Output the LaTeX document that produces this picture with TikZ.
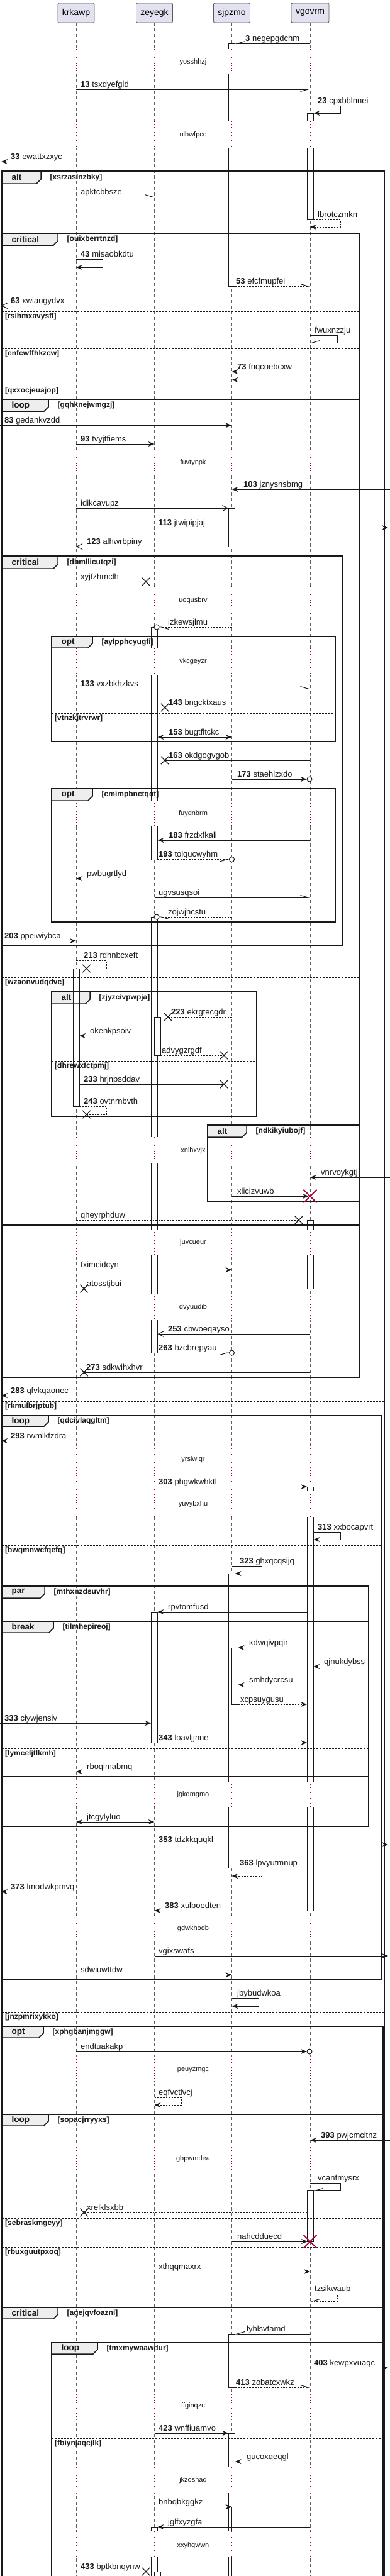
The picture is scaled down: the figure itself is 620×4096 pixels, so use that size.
\documentclass[tikz,border=0pt]{standalone}
\usepackage{fontspec}
\setmainfont{Liberation Sans}
\usetikzlibrary{arrows.meta,shapes.misc}
\definecolor{ink}{HTML}{181818}
\definecolor{lifegray}{HTML}{606060}
\definecolor{dlyred}{HTML}{A80036}
\definecolor{hdrfill}{HTML}{E2E2F0}
\definecolor{hdrdraw}{HTML}{5A5A5A}
\definecolor{tabfill}{HTML}{EEEEEE}
\pgfdeclarelayer{back}
\pgfdeclarelayer{front}
\pgfsetlayers{back,main,front}

\newcommand\Msg[5]{\coordinate (#1s) at (#2,#4); \coordinate (#1e) at (#3,#4); \draw[msg,#5] (#1s) -- (#1e);}
\newcommand\Lab[4]{\node[lbl] (#1) at (#2,#3) {#4};}
\newcommand\Slf[7]{\coordinate (#1s) at (#2,#3); \coordinate (#1e) at (#6,#5); \draw[msg,#7] (#1s) -- (#4,#3) -- (#4,#5) -- (#1e);}
\newcommand\Xm[3]{\node[xmk] (#1) at (#2,#3) {};}
\newcommand\Frm[9]{%
  \begin{pgfonlayer}{back}\fill[tabfill] (#2,#3) -- (#6,#3) -- (#6,{#7-7}) -- ({#6-7},#7) -- (#2,#7) -- cycle;\end{pgfonlayer}
  \begin{pgfonlayer}{front}
  \draw[frm] (#2,#3) rectangle (#4,#5);
  \draw[frm] (#2,#3) -- (#6,#3) -- (#6,{#7-7}) -- ({#6-7},#7) -- (#2,#7);
  \node[tabt] (#1t) at ({#2+15.5},{(#3+#7)/2}) {#8};
  \node[cnd] (#1c) at ({#6+14.5},{(#3+#7)/2}) {#9};
  \end{pgfonlayer}}
\newcommand\Sepr[5]{\begin{pgfonlayer}{front}\draw[sepl] (#2,#4) -- (#3,#4);
  \node[cnd] (#1) at ({#2+5},{#4+8.5}) {#5};\end{pgfonlayer}}
\newcommand\Dly[2]{\begin{pgfonlayer}{back}\foreach \xx in {121,245.5,368.5,493} {\fill[white] ({\xx-1.5},#1) rectangle ({\xx+1.5},#2); \draw[dlyline] (\xx,#1) -- (\xx,#2);}\end{pgfonlayer}}
\newcommand\ActF[3]{\draw[act,fill=white] (#1,#2) rectangle ({#1+10},#3);}
\newcommand\ActT[3]{\fill[white] (#1,#2) rectangle ({#1+10},#3); \draw[act] (#1,#3) -- (#1,#2) -- ({#1+10},#2) -- ({#1+10},#3);}
\newcommand\ActB[3]{\fill[white] (#1,#2) rectangle ({#1+10},#3); \draw[act] (#1,#2) -- (#1,#3) -- ({#1+10},#3) -- ({#1+10},#2);}
\newcommand\ActN[3]{\fill[white] (#1,#2) rectangle ({#1+10},#3); \draw[act] (#1,#2) -- (#1,#3) ({#1+10},#2) -- ({#1+10},#3);}

\begin{document}
\begin{tikzpicture}[x=1pt,y=-1pt,
  lifel/.style={draw=lifegray, line width=0.7pt, dash pattern=on 5pt off 4pt},
  dlyline/.style={draw=dlyred, line width=0.6pt, dash pattern=on 0.8pt off 3.5pt},
  msg/.style={draw=ink, line width=1pt},
  dsh/.style={dash pattern=on 2.5pt off 2pt},
  fa/.style={-{Stealth[length=10pt,width=8pt,inset=3.5pt]}},
  fab/.style={{Stealth[length=10pt,width=8pt,inset=3.5pt]}-{Stealth[length=10pt,width=8pt,inset=3.5pt]}},
  oa/.style={-{Straight Barb[length=9pt,width=9pt]}},
  hl/.style={-{Straight Barb[left,length=12pt,width=7pt]}},
  hr/.style={-{Straight Barb[right,length=12pt,width=7pt]}},
  lbl/.style={font=\fontsize{13}{15}\selectfont, inner sep=0pt, anchor=base west, text=ink},
  dlyt/.style={font=\fontsize{11}{13}\selectfont, inner sep=0pt, text=ink},
  cnd/.style={font=\bfseries\fontsize{12}{14}\selectfont, inner sep=0pt, anchor=west, text=ink},
  tabt/.style={font=\bfseries\fontsize{13.5}{15}\selectfont, inner sep=0pt, anchor=west, text=ink},
  frm/.style={draw=ink, line width=1.5pt},
  sepl/.style={draw=ink, line width=1pt, dash pattern=on 3pt off 2pt},
  act/.style={draw=ink, line width=1pt},
  hdr/.style={draw=hdrdraw, fill=hdrfill, rounded corners=2pt, minimum width=58pt, minimum height=31pt, inner sep=0pt, font=\fontsize{14}{16}\selectfont, line width=0.8pt},
  xmk/.style={draw=ink, cross out, minimum size=11pt, inner sep=0pt, line width=1.3pt},
  rx/.style={draw=dlyred, cross out, minimum size=19pt, inner sep=0pt, line width=1.8pt},
  cim/.style={draw=ink, circle, minimum size=8pt, inner sep=0pt, line width=1pt, fill=white}]
\useasboundingbox (0,0) rectangle (620,4096);

% participants and lifelines
\begin{pgfonlayer}{front}
\node[hdr] (krkawp) at (121,20.5) {krkawp};
\node[hdr] (zeyegk) at (245.5,20.5) {zeyegk};
\node[hdr] (sjpzmo) at (368.5,20.5) {sjpzmo};
\node[hdr, minimum width=60pt] (vgovrm) at (493,20.5) {vgovrm};
\end{pgfonlayer}
\begin{pgfonlayer}{back}
\draw[lifel] (krkawp.south) -- (121,4110);
\draw[lifel] (zeyegk.south) -- (245.5,4110);
\draw[lifel] (sjpzmo.south) -- (368.5,4110);
\draw[lifel] (vgovrm.south) -- (493,4110);
\end{pgfonlayer}

% delays
\Dly{78}{118}\Dly{193}{235}\Dly{714}{756}\Dly{932}{977}\Dly{1031}{1073}\Dly{1273}{1314}
\Dly{1808}{1849}\Dly{1955}{1996}\Dly{2057}{2099}\Dly{2299}{2412}\Dly{2833}{2873}\Dly{3045}{3085}
\Dly{3270}{3313}\Dly{3410}{3452}\Dly{3803}{3846}\Dly{3923}{3964}\Dly{4025}{4066}
\begin{pgfonlayer}{front}
\node[dlyt] (d1) at (307,99) {yosshhzj};
\node[dlyt] (d2) at (307,215) {ulbwfpcc};
\node[dlyt] (d3) at (307,736) {fuvtynpk};
\node[dlyt] (d4) at (307,955) {uoqusbrv};
\node[dlyt] (d5) at (307,1052) {vkcgeyzr};
\node[dlyt] (d6) at (307,1294) {fuydnbrm};
\node[dlyt] (d7) at (307,1830) {xnlhxvjx};
\node[dlyt] (d8) at (307,1976) {juvcueur};
\node[dlyt] (d9) at (307,2079) {dvyuudib};
\node[dlyt] (d10) at (307,2321) {yrsiwlqr};
\node[dlyt] (d11) at (307,2392) {yuvybxhu};
\node[dlyt] (d12) at (307,2854) {jgkdmgmo};
\node[dlyt] (d13) at (307,3067) {gdwkhodb};
\node[dlyt] (d14) at (307,3292) {peuyzmgc};
\node[dlyt] (d15) at (307,3433) {gbpwmdea};
\node[dlyt] (d16) at (307,3826) {ffginqzc};
\node[dlyt] (d17) at (307,3944) {jkzosnaq};
\node[dlyt] (d18) at (307,4048) {xxyhqwwn};
\end{pgfonlayer}

% frames
\Frm{f1}{3}{272}{611}{4110}{65}{292}{alt}{[xsrzaslnzbky]}
\Frm{f2}{3}{371}{571}{2190}{92}{390}{critical}{[ouixberrtnzd]}
\Frm{f3}{3}{635}{571}{1948}{77}{654}{loop}{[gqhknejwmgzj]}
\Frm{f4}{3}{884}{544}{1503}{92}{904}{critical}{[dbmllicutqzi]}
\Frm{f5}{82}{1012}{533}{1179}{147}{1030}{opt}{[aylpphcyugfi]}
\Frm{f6}{82}{1254}{533}{1466}{147}{1273}{opt}{[cmimpbnctqot]}
\Frm{f7}{82}{1576}{408}{1775}{143}{1596}{alt}{[zjyzcivpwpja]}
\Frm{f8}{330}{1789}{571}{1910}{392}{1808}{alt}{[ndkikyiubojf]}
\Frm{f9}{3}{2251}{606}{3148}{77}{2268}{loop}{[qdcivlaqgltm]}
\Frm{f10}{3}{2522}{586}{2904}{71}{2541}{par}{[mthxnzdsuvhr]}
\Frm{f11}{3}{2578}{586}{2825}{85}{2596}{break}{[tilmhepireoj]}
\Frm{f12}{3}{3222}{609}{3362}{69}{3240}{opt}{[xphgbanjmggw]}
\Frm{f13}{3}{3362}{609}{3669}{77}{3380}{loop}{[sopacjrryyxs]}
\Frm{f14}{3}{3669}{609}{4110}{92}{3687}{critical}{[agejqvfoazni]}
\Frm{f15}{82}{3725}{609}{4110}{155}{3743}{loop}{[tmxmywaawdur]}

\Sepr{s1}{3}{571}{495}{[rsihmxavysfl]}
\Sepr{s2}{3}{571}{554}{[enfcwffhkzcw]}
\Sepr{s3}{3}{571}{613}{[qxxocjeuajop]}
\Sepr{s4}{82}{533}{1134}{[vtnzkjtrvrwr]}
\Sepr{s5}{3}{571}{1554}{[wzaonvudqdvc]}
\Sepr{s6}{82}{408}{1687}{[dhrewxfctpmj]}
\Sepr{s7}{3}{611}{2228}{[rkmulbrjptub]}
\Sepr{s8}{3}{606}{2457}{[bwqmnwcfqefq]}
\Sepr{s9}{3}{586}{2780}{[lymceljtlkmh]}
\Sepr{s10}{3}{611}{3199}{[jnzpmrixykko]}
\Sepr{s11}{3}{609}{3527}{[sebraskmgcyy]}
\Sepr{s12}{3}{609}{3573}{[rbuxguutpxoq]}
\Sepr{s13}{82}{609}{3877}{[fbiynjaqcjlk]}

% activations (main layer)
\ActT{363.5}{69.3}{78}\ActN{363.5}{118}{193}\ActB{363.5}{235}{455}
\ActF{363.5}{808}{869}
\ActT{363.5}{2502}{2833}\ActB{363.5}{2873}{2970}\ActF{368.5}{2620}{2710}
\ActF{363.5}{3711}{3796}
\ActT{363.5}{3869}{3923}\ActN{363.5}{3964}{4025}\ActN{363.5}{4066}{4110}
\ActT{368.5}{3986}{4025}\ActN{368.5}{4066}{4110}
\ActT{488}{180}{193}\ActB{488}{235}{349}
\ActT{488}{1940}{1955}\ActB{488}{1996}{2049}
\ActT{488}{2364}{2371}\ActN{488}{2412}{2833}\ActB{488}{2873}{3038}
\ActF{488}{3483}{3564}
\ActT{240.5}{997}{1031}\ActN{240.5}{1073}{1273}\ActB{240.5}{1314}{1367}
\ActT{240.5}{1458}{1808}\ActN{240.5}{1849}{1955}\ActN{240.5}{1996}{2057}\ActB{240.5}{2099}{2151}
\ActF{245.5}{1617}{1678}
\ActF{240.5}{2563}{2771}
\ActT{240.5}{4018}{4025}\ActN{240.5}{4066}{4110}\ActT{245.5}{4089}{4110}
\ActF{116}{1540}{1759}

% messages
\begin{pgfonlayer}{front}
\Msg{m3}{493}{373.5}{69.3}{hr}\Lab{m3l}{390}{65.3}{\textbf{3} negepgdchm}
\Msg{m13}{121}{493}{142}{hr}\Lab{m13l}{128}{138}{\textbf{13} tsxdyefgld}
\Slf{m23}{493}{168}{541}{180}{498.5}{fa}\Lab{m23l}{505}{164}{\textbf{23} cpxbblnnei}
\Msg{m33}{363.5}{2}{257}{fa}\Lab{m33l}{17}{253}{\textbf{33} ewattxzxyc}
\Msg{mapk}{121}{245.5}{313}{hl}\Lab{mapkl}{128}{309}{apktcbbsze}
\Slf{mlb}{498}{349}{541}{361}{493}{dsh,fa}\Lab{mlbl}{505}{345}{lbrotczmkn}
\Slf{m43}{121}{412}{163}{425}{121}{fa}\Lab{m43l}{128}{408}{\textbf{43} misaobkdtu}
\Msg{m53}{373.5}{493}{455}{dsh,hl}\Lab{m53l}{375}{451}{\textbf{53} efcfmupfei}
\Msg{m63}{493}{2}{486}{oa}\Lab{m63l}{17}{482}{\textbf{63} xwiaugydvx}
\Slf{mfw}{493}{533}{536}{545}{493}{hr}\Lab{mfwl}{500}{529}{fwuxnzzju}
\Slf{m73}{368.5}{591}{411}{604}{368.5}{fab}\Lab{m73l}{377}{587}{\textbf{73} fnqcoebcxw}
\Msg{m83}{0}{368.5}{676.3}{fa}\Lab{m83l}{7}{672}{\textbf{83} gedankvzdd}
\Msg{m93}{121}{245.5}{706}{fa}\Lab{m93l}{128}{702}{\textbf{93} tvyjtfiems}
\Msg{m103}{620}{368.5}{778}{fa}\Lab{m103l}{387}{774}{\textbf{103} jznysnsbmg}
\Msg{midi}{121}{363.5}{808}{oa}\Lab{midil}{128}{804}{idikcavupz}
\Msg{m113}{245.5}{617}{839}{fa}\Lab{m113l}{252}{835}{\textbf{113} jtwipipjaj}
\Msg{m123}{363.5}{121}{869}{dsh,oa}\Lab{m123l}{138}{865}{\textbf{123} alhwrbpiny}
\Msg{mxyj}{121}{232}{925}{dsh}\Xm{mxyjx}{232}{925}\Lab{mxyjl}{128}{921}{xyjfzhmclh}
\Msg{mizk}{368.5}{253}{997}{dsh,hl}\node[cim] (mizkc) at (249,997) {};\Lab{mizkl}{267}{993}{izkewsjlmu}
\Msg{m133}{121}{493}{1095}{hl}\Lab{m133l}{128}{1091}{\textbf{133} vxzbkhzkvs}
\Msg{m143}{493}{262}{1125}{dsh}\Xm{m143x}{262}{1125}\Lab{m143l}{268}{1121}{\textbf{143} bngcktxaus}
\Msg{m153}{250.5}{368.5}{1172}{fab}\Lab{m153l}{268}{1168}{\textbf{153} bugtfltckc}
\Msg{m163}{493}{262}{1209}{}\Xm{m163x}{262}{1209}\Lab{m163l}{268}{1205}{\textbf{163} okdgogvgob}
\Msg{m173}{368.5}{488}{1239}{fa}\node[cim] (m173c) at (492,1239) {};\Lab{m173l}{377}{1235}{\textbf{173} staehlzxdo}
\Msg{m183}{493}{250.5}{1336}{fa}\Lab{m183l}{268}{1332}{\textbf{183} frzdxfkali}
\Msg{m193}{250.5}{364.5}{1366.5}{dsh,hr}\node[cim] (m193c) at (368.5,1366.5) {};\Lab{m193l}{252}{1362}{\textbf{193} tolqucwyhm}
\Msg{mpwb}{245.5}{121}{1397}{dsh,fa}\Lab{mpwbl}{138}{1393}{pwbugrtlyd}
\Msg{mugv}{245.5}{493}{1427}{hl}\Lab{mugvl}{252}{1423}{ugvsusqsoi}
\Msg{mzoj}{368.5}{253}{1458}{dsh,hl}\node[cim] (mzojc) at (249,1458) {};\Lab{mzojl}{267}{1454}{zojwjhcstu}
\Msg{m203}{0}{121}{1496}{fa}\Lab{m203l}{7}{1492}{\textbf{203} ppeiwiybca}
\Slf{m213}{121}{1527}{169}{1540}{137.5}{dsh}\Xm{m213x}{137.5}{1540}\Lab{m213l}{133}{1523}{\textbf{213} rdhnbcxeft}
\Msg{m223}{368.5}{267}{1617}{dsh}\Xm{m223x}{267}{1617}\Lab{m223l}{272}{1613}{\textbf{223} ekrgtecgdr}
\Msg{moke}{368.5}{126}{1647}{fa}\Lab{mokel}{143}{1643}{okenkpsoiv}
\Msg{madv}{255.5}{356}{1678}{dsh}\Xm{madvx}{356}{1678}\Lab{madvl}{257}{1674}{advygzrgdf}
\Msg{m233}{126}{356}{1724}{}\Xm{m233x}{356}{1724}\Lab{m233l}{133}{1720}{\textbf{233} hrjnpsddav}
\Slf{m243}{126}{1759}{169}{1772}{137.5}{dsh}\Xm{m243x}{137.5}{1772}\Lab{m243l}{133}{1755}{\textbf{243} ovtnrnbvth}
\Msg{mvnr}{620}{493}{1872}{fa}\Lab{mvnrl}{510}{1868}{vnrvoykgtj}
\Msg{mxli}{368.5}{491}{1902}{fa}\node[rx] (mxlix) at (493,1902) {};\Lab{mxlil}{377}{1898}{xlicizvuwb}
\Msg{mqhe}{121}{475}{1940}{dsh}\Xm{mqhex}{475}{1940}\Lab{mqhel}{128}{1936}{qheyrphduw}
\Msg{mfxi}{121}{368.5}{2019}{fa}\Lab{mfxil}{128}{2015}{fximcidcyn}
\Msg{mato}{488}{133.5}{2049}{dsh}\Xm{matox}{133.5}{2049}\Lab{matol}{138}{2045}{atosstjbui}
\Msg{m253}{493}{250.5}{2121}{oa}\Lab{m253l}{267}{2117}{\textbf{253} cbwoeqayso}
\Msg{m263}{250.5}{364.5}{2151}{dsh,hr}\node[cim] (m263c) at (368.5,2151) {};\Lab{m263l}{252}{2147}{\textbf{263} bzcbrepyau}
\Msg{m273}{493}{133.5}{2182}{}\Xm{m273x}{133.5}{2182}\Lab{m273l}{137}{2178}{\textbf{273} sdkwihxhvr}
\Msg{m283}{121}{2}{2219}{fa}\Lab{m283l}{17}{2215}{\textbf{283} qfvkqaonec}
\Msg{m293}{493}{2}{2291}{fa}\Lab{m293l}{17}{2287}{\textbf{293} rwmlkfzdra}
\Msg{m303}{245.5}{488}{2364}{fa}\Lab{m303l}{252}{2360}{\textbf{303} phgwkwhktl}
\Slf{m313}{498}{2436}{541}{2448}{498.5}{fa}\Lab{m313l}{505}{2432}{\textbf{313} xxbocapvrt}
\Slf{m323}{368.5}{2490}{416}{2502}{373.5}{fa}\Lab{m323l}{381}{2486}{\textbf{323} ghxqcqsijq}
\Msg{mrpv}{488}{250.5}{2563}{fa}\Lab{mrpvl}{267}{2559}{rpvtomfusd}
\Msg{mkdw}{488}{378.5}{2620}{fa}\Lab{mkdwl}{396}{2616}{kdwqivpqir}
\Msg{mqjn}{620}{498}{2650}{fa}\Lab{mqjnl}{515}{2646}{qjnukdybss}
\Msg{msmh}{620}{378.5}{2679}{fa}\Lab{msmhl}{396}{2675}{smhdycrcsu}
\Msg{mxcp}{378.5}{488}{2710}{dsh,fa}\Lab{mxcpl}{382}{2706}{xcpsuygusu}
\Msg{m333}{0}{240.5}{2740}{fa}\Lab{m333l}{7}{2736}{\textbf{333} ciywjensiv}
\Msg{m343}{250.5}{488}{2771}{dsh,fa}\Lab{m343l}{252}{2767}{\textbf{343} loavljjnne}
\Msg{mrbo}{620}{121}{2817}{fa}\Lab{mrbol}{138}{2813}{rboqimabmq}
\Msg{mjtc}{121}{245.5}{2897}{fab}\Lab{mjtcl}{138}{2893}{jtcgylyluo}
\Msg{m353}{245.5}{617}{2933}{fa}\Lab{m353l}{252}{2929}{\textbf{353} tdzkkquqkl}
\Slf{m363}{373.5}{2970}{416}{2983}{368.5}{dsh,fa}\Lab{m363l}{381}{2966}{\textbf{363} lpvyutmnup}
\Msg{m373}{488}{2}{3008}{fa}\Lab{m373l}{17}{3004}{\textbf{373} lmodwkpmvq}
\Msg{m383}{488}{245.5}{3038}{dsh,fa}\Lab{m383l}{262}{3034}{\textbf{383} xulboodten}
\Msg{mvgi}{245.5}{617}{3110}{fa}\Lab{mvgil}{252}{3106}{vgixswafs}
\Msg{msdw}{121}{368.5}{3140}{fa}\Lab{msdwl}{128}{3136}{sdwiuwttdw}
\Slf{mjby}{368.5}{3177}{411}{3190}{368.5}{fa}\Lab{mjbyl}{377}{3173}{jbybudwkoa}
\Msg{mend}{121}{488}{3262}{fa}\node[cim] (mendc) at (492,3262) {};\Lab{mendl}{128}{3258}{endtuakakp}
\Slf{meqf}{245.5}{3335}{288}{3347}{245.5}{dsh,fa}\Lab{meqfl}{252}{3331}{eqfvctlvcj}
\Msg{m393}{620}{493}{3403}{fa}\Lab{m393l}{510}{3399}{\textbf{393} pwjcmcitnz}
\Slf{mvca}{493}{3471}{541}{3483}{498}{hr}\Lab{mvcal}{505}{3467}{vcanfmysrx}
\Msg{mxre}{488}{133.5}{3518}{dsh}\Xm{mxrex}{133.5}{3518}\Lab{mxrel}{138}{3514}{xrelklsxbb}
\Msg{mnah}{368.5}{489}{3564}{fa}\node[rx] (mnahx) at (493,3564) {};\Lab{mnahl}{377}{3560}{nahcdduecd}
\Msg{mxth}{245.5}{493}{3612}{fa}\Lab{mxthl}{252}{3608}{xthqqmaxrx}
\Slf{mtzs}{493}{3647}{536}{3659}{493}{dsh,hr}\Lab{mtzsl}{500}{3643}{tzsikwaub}
\Msg{mlyh}{493}{373.5}{3711}{hr}\Lab{mlyhl}{392}{3707}{lyhlsvfamd}
\Msg{m403}{493}{617}{3765}{fa}\Lab{m403l}{499}{3761}{\textbf{403} kewpxvuaqc}
\Msg{m413}{373.5}{493}{3796}{dsh,hl}\Lab{m413l}{375}{3792}{\textbf{413} zobatcxwkz}
\Msg{m423}{245.5}{363.5}{3869}{fa}\Lab{m423l}{252}{3865}{\textbf{423} wnffiuamvo}
\Msg{mguc}{620}{373.5}{3914}{fa}\Lab{mgucl}{392}{3910}{gucoxqeqgl}
\Msg{mbnb}{245.5}{368.5}{3986}{fa}\Lab{mbnbl}{252}{3982}{bnbqbkggkz}
\Msg{mjgl}{493}{250.5}{4018}{fa}\Lab{mjgll}{267}{4014}{jglfxyzgfa}
\Msg{m433}{121}{232}{4089}{dsh}\Xm{m433x}{232}{4089}\Lab{m433l}{128}{4085}{\textbf{433} bptkbnqynw}
\end{pgfonlayer}
\end{tikzpicture}
\end{document}
